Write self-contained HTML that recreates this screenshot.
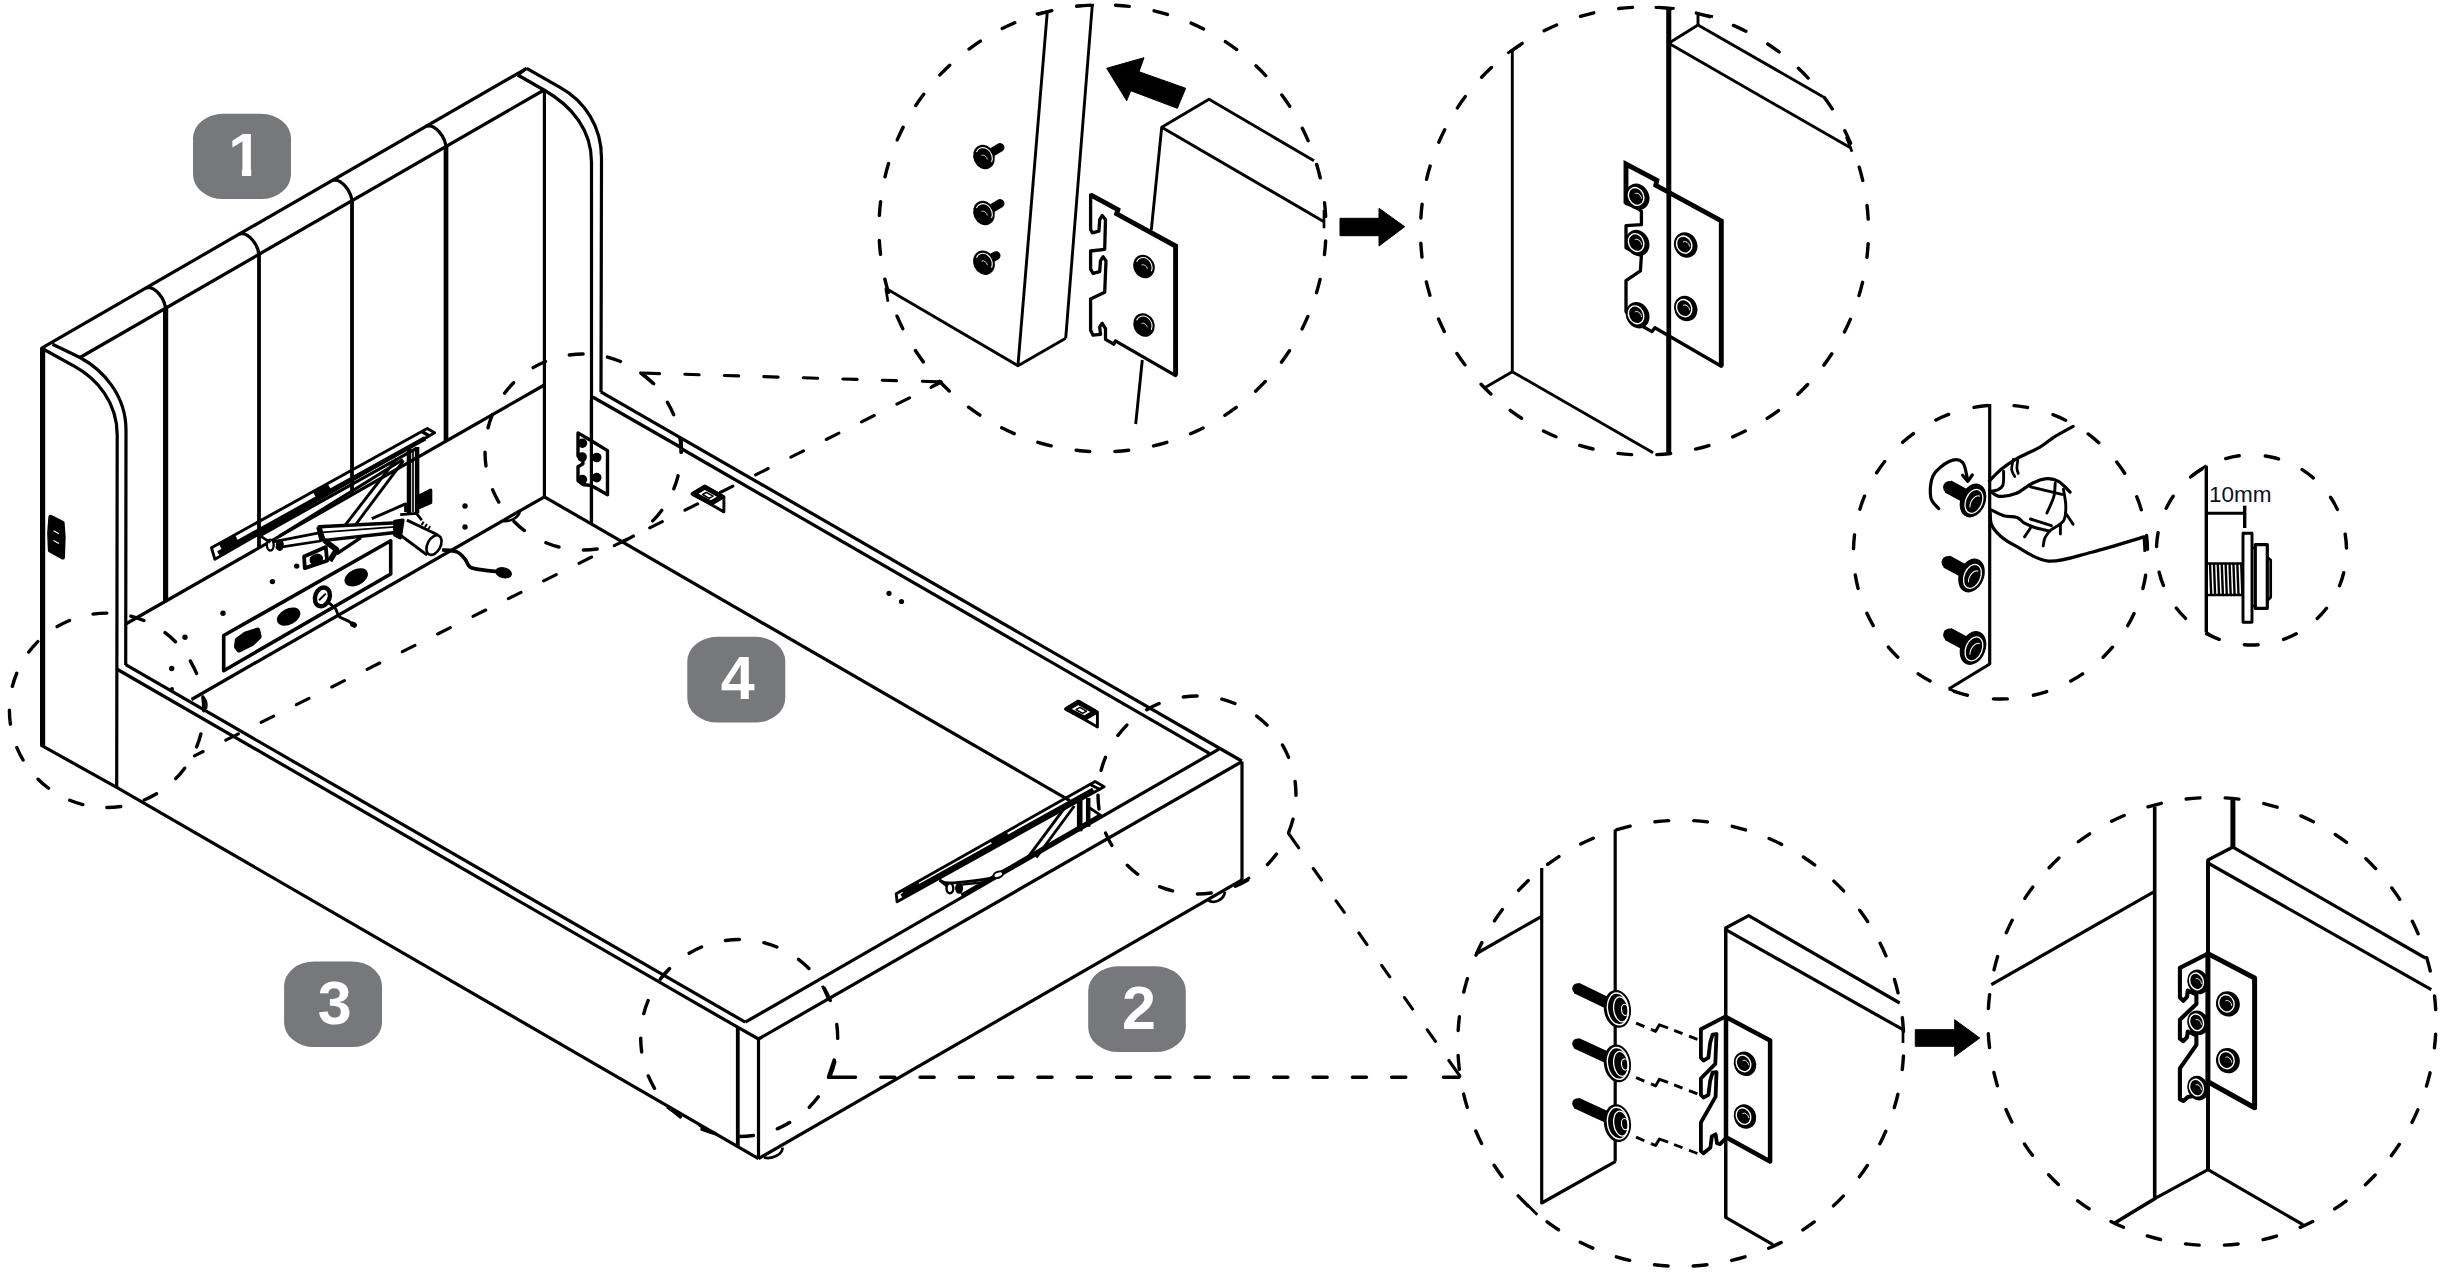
<!DOCTYPE html>
<html><head><meta charset="utf-8"><title>Bed assembly</title>
<style>html,body{margin:0;padding:0;background:#fff}body{width:2443px;height:1272px;overflow:hidden}svg{display:block}text{font-family:"Liberation Sans",sans-serif}</style>
</head><body>
<svg width="2443" height="1272" viewBox="0 0 2443 1272" stroke-linecap="butt" stroke-linejoin="round">
<rect width="2443" height="1272" fill="#fff"/>
<path d="M41.3,348.3 L526.7,68.3" fill="none" stroke="#000" stroke-width="3.2" />
<path d="M80,357.5 L544,90" fill="none" stroke="#000" stroke-width="3.2" />
<path d="M42.6,347.5 L42.6,746" fill="none" stroke="#000" stroke-width="5.2" />
<path d="M52.5,344.2 L80,357.5 C103,370 126,395 126,430 L125.7,665" fill="none" stroke="#000" stroke-width="3.2" />
<path d="M44,349.5 L75,366.7 C97,379 117.2,402 117.2,435 L116.7,787.3" fill="none" stroke="#000" stroke-width="3.2" />
<path d="M526.7,68.3 L560,87.3 C585,101 601.5,127 601.5,158 L601,392" fill="none" stroke="#000" stroke-width="3.2" />
<path d="M517.7,75 L544,90 C572,106 591.5,130 591.5,162 L591.5,523.5" fill="none" stroke="#000" stroke-width="3.2" />
<path d="M526.7,68.3 L517.7,75" fill="none" stroke="#000" stroke-width="3.2" />
<path d="M145.8,288 C154.8,285 165.6,299.2 165.6,310.2" fill="none" stroke="#000" stroke-width="3.2" />
<path d="M165.6,308.2 L165.6,601.2" fill="none" stroke="#000" stroke-width="5.2" />
<path d="M239.2,234.1 C248.2,231.1 259,245.3 259,256.3" fill="none" stroke="#000" stroke-width="3.2" />
<path d="M259,254.3 L259,547.9" fill="none" stroke="#000" stroke-width="3.8" />
<path d="M332.2,180.5 C341.2,177.5 352,191.7 352,202.7" fill="none" stroke="#000" stroke-width="3.2" />
<path d="M352,200.7 L352,494.8" fill="none" stroke="#000" stroke-width="3.8" />
<path d="M426.2,126.3 C435.2,123.3 446,137.5 446,148.5" fill="none" stroke="#000" stroke-width="3.2" />
<path d="M446,146.5 L446,441.1" fill="none" stroke="#000" stroke-width="4.7" />
<path d="M544.4,90 L544.4,496.8" fill="none" stroke="#000" stroke-width="3.2" />
<path d="M125.7,624 L544.3,385" fill="none" stroke="#000" stroke-width="3.2" />
<path d="M191.5,699.5 L544.4,496.8" fill="none" stroke="#000" stroke-width="3.2" />
<path d="M41,745.2 L116.7,787.3 L758.5,1158.6" fill="none" stroke="#000" stroke-width="3.2" />
<path d="M116.7,669 L737.6,1027.2" fill="none" stroke="#000" stroke-width="3.2" />
<path d="M125.7,664.7 L745.3,1022.2" fill="none" stroke="#000" stroke-width="3.2" />
<path d="M737.6,1027.2 L758.5,1039" fill="none" stroke="#000" stroke-width="3.2" />
<path d="M737.8,1027.2 L737.8,1145.8" fill="none" stroke="#000" stroke-width="3.8" />
<path d="M758.5,1039 L758.5,1158.6" fill="none" stroke="#000" stroke-width="3.2" />
<path d="M659.4,980.3 L670.4,968.2" fill="none" stroke="#000" stroke-width="2.7" />
<path d="M745.3,1022.2 L1218.9,749.2" fill="none" stroke="#000" stroke-width="3.2" />
<path d="M758.5,1039 L1242,761.5" fill="none" stroke="#000" stroke-width="3.2" />
<path d="M758.5,1158.6 L1242,879.8" fill="none" stroke="#000" stroke-width="3.2" />
<path d="M1242,761.5 L1242,880" fill="none" stroke="#000" stroke-width="3.2" />
<path d="M822.3,985.8 L828.9,1000.2" fill="none" stroke="#000" stroke-width="2.7" />
<path d="M1235,886 L1250,877.5" fill="none" stroke="#000" stroke-width="2.7" />
<path d="M600.8,391.8 L1241.7,761" fill="none" stroke="#000" stroke-width="3.2" />
<path d="M592.7,397 L681,447.5" fill="none" stroke="#000" stroke-width="3.2" />
<path d="M681.6,437.5 L681.6,453.5" fill="none" stroke="#000" stroke-width="2.9" />
<path d="M682,449 L1209.4,753.4" fill="none" stroke="#000" stroke-width="3.2" />
<path d="M544.4,496.8 L1069.8,800.6" fill="none" stroke="#000" stroke-width="3.2" />
<path d="M764,1157.5 C772,1159.5 782,1155 782.7,1147.6" fill="none" stroke="#000" stroke-width="2.7" />
<path d="M1208,900 C1214,904.5 1224,900 1225,891.5" fill="none" stroke="#000" stroke-width="2.7" />
<path d="M698,1124 C703,1130 712,1131 716,1134" fill="none" stroke="#000" stroke-width="2.5" />
<path d="M667,1107 C672,1112 678,1113 682,1116" fill="none" stroke="#000" stroke-width="2.5" />
<path d="M502,521 C512,522 518,517 520,512" fill="none" stroke="#000" stroke-width="2.5" />
<path d="M203,697 C206,700 207,705 206,709" fill="none" stroke="#000" stroke-width="2.5" />
<rect x="193" y="113.8" width="98" height="85.2" rx="30" ry="24.5" fill="#77787b"/>
<text x="245.3" y="176.2" font-size="61" font-weight="700" fill="#fff" text-anchor="middle">1</text>
<rect x="228" y="168.6" width="13.9" height="9" fill="#77787b"/><rect x="251.2" y="168.6" width="11" height="9" fill="#77787b"/>
<rect x="1088.2" y="966.3" width="97.59999999999991" height="85.70000000000005" rx="30" ry="24.5" fill="#77787b"/>
<text x="1139" y="1029" font-size="61" font-weight="700" fill="#fff" text-anchor="middle">2</text>
<rect x="284.1" y="961.5" width="97.89999999999998" height="85.5" rx="30" ry="24.5" fill="#77787b"/>
<text x="334.7" y="1024" font-size="61" font-weight="700" fill="#fff" text-anchor="middle">3</text>
<rect x="687.3" y="636.8" width="98.0" height="85.70000000000005" rx="30" ry="24.5" fill="#77787b"/>
<text x="737.6" y="699.4" font-size="61" font-weight="700" fill="#fff" text-anchor="middle">4</text>
<path d="M211.5,547.8 L427.2,428.4 L434.6,432.8 L214.9,559.3 Z" fill="none" stroke="#000" stroke-width="2.9" />
<path d="M218.3,553.2 L425.2,438.3" fill="none" stroke="#000" stroke-width="4.7" />
<path d="M315,495.7 L329.8,487.4" fill="none" stroke="#000" stroke-width="10.2" />
<path d="M220.3,546.5 L236.5,537.7" fill="none" stroke="#000" stroke-width="7.9" />
<path d="M421.8,431.5 L429.9,436.2" fill="none" stroke="#000" stroke-width="3.4" />
<path d="M260.9,535 L416.4,448.4" fill="none" stroke="#000" stroke-width="3.2" />
<path d="M279.1,536.3 L402.9,459.5" fill="none" stroke="#000" stroke-width="3.2" />
<path d="M345.4,524.8 L396.8,458.5" fill="none" stroke="#000" stroke-width="2.9" />
<path d="M355.5,524.8 L403.5,460.6" fill="none" stroke="#000" stroke-width="2.9" />
<path d="M409,448.4 L409,513.3" fill="none" stroke="#000" stroke-width="4.5" />
<path d="M417.1,447 L417.1,513.3" fill="none" stroke="#000" stroke-width="4.5" />
<path d="M413,451.1 L413,512" fill="none" stroke="#000" stroke-width="1.7" />
<path d="M419.8,495.7 L430.6,490.3 L430.6,502.5 L419.8,507.2 Z" fill="#000" stroke="#000" stroke-width="3.4" />
<path d="M371.8,518.7 L405.6,503.9 L405.6,512" fill="none" stroke="#000" stroke-width="2.9" />
<path d="M270.3,542.4 L319,532.9" fill="none" stroke="#000" stroke-width="2.7" />
<path d="M275.7,547.8 L320.4,541" fill="none" stroke="#000" stroke-width="2.7" />
<path d="M319,526.8 L397.5,522.8 L397.5,532.3 L324.4,540.4 Z" fill="#fff" stroke="#000" stroke-width="3.4" />
<path d="M321.7,532.3 L394.8,526.8" fill="none" stroke="#000" stroke-width="1.8" />
<path d="M319,526.8 L322.4,541.7" fill="none" stroke="#000" stroke-width="5.6" />
<ellipse cx="270.3" cy="545.1" rx="3.4" ry="5.5" transform="rotate(0 270.3 545.1)" fill="#fff" stroke="#000" stroke-width="2.4"/>
<ellipse cx="279.8" cy="545.1" rx="4" ry="6" transform="rotate(0 279.8 545.1)" fill="#000" stroke="none" stroke-width="0"/>
<path d="M260.9,536.3 L270.3,542.4" fill="none" stroke="#000" stroke-width="2.7" />
<path d="M324.4,540.4 L336.6,549.8 L329.8,560.7" fill="none" stroke="#000" stroke-width="5.6" />
<path d="M360.9,537.7 L336.6,553.9" fill="none" stroke="#000" stroke-width="3.4" />
<path d="M304.1,556.6 L325.8,547.1 L327.1,560.7 L304.8,568.1 Z" fill="#fff" stroke="#000" stroke-width="3.8" />
<ellipse cx="316.3" cy="559.3" rx="7" ry="5.5" transform="rotate(-20 316.3 559.3)" fill="#000" stroke="none" stroke-width="0"/>
<path d="M394.8,521.4 L394.8,535 L400.2,537.7 L402.9,520.1 Z" fill="#000" stroke="#000" stroke-width="3.4" />
<path d="M400.2,535 L427.2,555.2" fill="none" stroke="#000" stroke-width="2.9" />
<path d="M406.9,520.1 L438,535" fill="none" stroke="#000" stroke-width="2.9" />
<ellipse cx="434" cy="545.1" rx="6.5" ry="10.5" transform="rotate(28 434 545.1)" fill="#fff" stroke="#000" stroke-width="2.6"/>
<path d="M400.2,514.7 L416.4,513.3 L421.8,520.1" fill="none" stroke="#000" stroke-width="2.7" />
<path d="M421.8,522.8 L429.9,528.2" fill="none" stroke="#000" stroke-width="3.8" stroke-dasharray="2 2"/>
<path d="M442.1,549.8 C444.6,550.2 453.1,550.3 457,551.9 C460.8,553.4 462.8,556.7 465.1,559.3 C467.3,561.9 467.3,565.6 470.5,567.4 C473.6,569.2 479.7,569.4 484,570.1 C488.3,570.8 494.2,571.2 496.2,571.5" fill="none" stroke="#000" stroke-width="3.6" />
<ellipse cx="503.6" cy="572.8" rx="8.5" ry="5.5" transform="rotate(15 503.6 572.8)" fill="#000" stroke="none" stroke-width="0"/>
<circle cx="296.7" cy="566.1" r="2.7" fill="#000"/>
<circle cx="272.4" cy="581.6" r="2.7" fill="#000"/>
<circle cx="465" cy="506" r="2.7" fill="#000"/>
<circle cx="465" cy="527" r="2.7" fill="#000"/>
<circle cx="223" cy="613.2" r="2.7" fill="#000"/>
<circle cx="185" cy="637.3" r="2.7" fill="#000"/>
<circle cx="171.7" cy="668.5" r="2.7" fill="#000"/>
<circle cx="172" cy="689" r="2.0" fill="#000"/>
<circle cx="889" cy="593.3" r="2.6" fill="#000"/>
<circle cx="901.5" cy="601.5" r="2.6" fill="#000"/>
<path d="M223.7,635.5 L390.7,540.8 L390.7,574 L223.7,670.7 Z" fill="none" stroke="#000" stroke-width="3.6" />
<path d="M237.6,640.2 L245.3,634.4 L257.5,630.4 L258.8,636.8 L251.4,643.6 L239,649.7 L236.8,646.6 Z" fill="#000" stroke="#000" stroke-width="5.6" />
<ellipse cx="288.6" cy="616.6" rx="12.5" ry="8" transform="rotate(-27 288.6 616.6)" fill="#000" stroke="none" stroke-width="0"/>
<ellipse cx="356.2" cy="577.3" rx="12.5" ry="8" transform="rotate(-27 356.2 577.3)" fill="#000" stroke="none" stroke-width="0"/>
<ellipse cx="322.4" cy="596.9" rx="7.2" ry="9.6" transform="rotate(20 322.4 596.9)" fill="none" stroke="#000" stroke-width="4.4"/>
<path d="M319,600.3 L325.8,593.6" fill="none" stroke="#000" stroke-width="2" />
<path d="M327.1,601.7 C328.5,602.8 333.2,606 335.2,608.4 C337.3,610.9 337,614.4 339.3,616.6 C341.6,618.7 346.5,619.9 348.8,621.3 C351,622.6 352.2,624.1 352.8,624.7" fill="none" stroke="#000" stroke-width="2.9" />
<ellipse cx="353.5" cy="624.7" rx="3.6" ry="2.8" transform="rotate(30 353.5 624.7)" fill="#000" stroke="none" stroke-width="0"/>
<path d="M50.6,517 L62.4,522.9 L63.4,537.2 L62.7,557.3 L50.1,550.4 L49.4,533.2 Z" fill="#000" stroke="#000" stroke-width="4.5" />
<path d="M53.6,530.8 L59,533.7" fill="none" stroke="#fff" stroke-width="1.2" />
<path d="M53.6,540.6 L59,543.6" fill="none" stroke="#fff" stroke-width="1.2" />
<path d="M578,432.9 L591.3,440.8 L607.5,450.6 L607.5,494.8 L591.3,485.5 L582.9,484.5 L578,480.6 L578,466.8 L582.9,463.9 L582.9,459 L578,456 L578,432.9 Z" fill="#fff" stroke="#000" stroke-width="3.4" />
<path d="M591.4,400 L591.4,523.5" fill="none" stroke="#000" stroke-width="3.2" />
<circle cx="582.4" cy="443.2" r="4.8" fill="#000"/>
<circle cx="582.1" cy="457" r="4.8" fill="#000"/>
<circle cx="582.4" cy="479.6" r="4.8" fill="#000"/>
<circle cx="596.7" cy="457.5" r="4.8" fill="#000"/>
<circle cx="596.7" cy="477.6" r="4.8" fill="#000"/>
<path d="M692,493.9 L704.8,486 L723.9,496.8 L723.9,511.9 L711,504.4 Z" fill="#fff" stroke="#000" stroke-width="2.9" />
<path d="M693.5,493.9 L704.8,487.3 L721.5,496.8 L711,502.9 Z" fill="#fff" stroke="#000" stroke-width="4.7" />
<path d="M711,504.4 L723.9,496.8" fill="none" stroke="#000" stroke-width="2.9" />
<path d="M702.5,494.5 L706.3,492.3 L713,496.1 L709.2,498.3 Z" fill="#fff" stroke="#000" stroke-width="1.5" />
<path d="M1065.5,709 L1078.3,701.1 L1097.4,711.9 L1097.4,727 L1084.5,719.5 Z" fill="#fff" stroke="#000" stroke-width="2.9" />
<path d="M1067,709 L1078.3,702.4 L1095,711.9 L1084.5,718 Z" fill="#fff" stroke="#000" stroke-width="4.7" />
<path d="M1084.5,719.5 L1097.4,711.9" fill="none" stroke="#000" stroke-width="2.9" />
<path d="M1076,709.6 L1079.8,707.4 L1086.5,711.2 L1082.7,713.4 Z" fill="#fff" stroke="#000" stroke-width="1.5" />
<path d="M896.2,893.7 L1095.1,781.6 L1104.1,786.7 L897.1,901.8 Z" fill="none" stroke="#000" stroke-width="2.9" />
<path d="M901.6,896.4 L1093.3,789.7" fill="none" stroke="#000" stroke-width="4.7" />
<path d="M992,844 L1008.3,834.9" fill="none" stroke="#000" stroke-width="9" />
<path d="M903.4,893.7 L919.7,884.7" fill="none" stroke="#000" stroke-width="6.8" />
<path d="M1089.7,784.3 L1100.5,789.7" fill="none" stroke="#000" stroke-width="2.9" />
<path d="M1100.5,815 L961.3,895.2" fill="none" stroke="#000" stroke-width="3.2" />
<path d="M1026.4,859.3 L1068,803.3" fill="none" stroke="#000" stroke-width="2.9" />
<path d="M1036.3,857.5 L1074.3,806" fill="none" stroke="#000" stroke-width="2.9" />
<path d="M1079.7,799.7 L1079.7,831.3" fill="none" stroke="#000" stroke-width="5.6" />
<path d="M1088.2,797.9 L1088.2,826.8" fill="none" stroke="#000" stroke-width="4.5" />
<path d="M1088.2,806.9 L1101.4,815.9" fill="none" stroke="#000" stroke-width="2.9" />
<path d="M939.6,880.1 C941.4,880.6 942,883.2 950.4,882.9 C958.9,882.6 982.4,879.8 990.2,878.3 C998,876.8 992,876.7 997.4,873.8 C1002.9,871 1017.6,863.9 1022.7,861.2 C1027.9,858.4 1027.3,858.1 1028.2,857.5" fill="none" stroke="#000" stroke-width="2.7" />
<path d="M939.6,880.1 L948.6,887.4" fill="none" stroke="#000" stroke-width="2.7" />
<path d="M961.3,884.7 L986.6,882" fill="none" stroke="#000" stroke-width="2.3" />
<ellipse cx="949.9" cy="888.3" rx="3.4" ry="5" transform="rotate(0 949.9 888.3)" fill="#fff" stroke="#000" stroke-width="2.4"/>
<ellipse cx="959.1" cy="888.3" rx="4" ry="5.5" transform="rotate(0 959.1 888.3)" fill="#000" stroke="none" stroke-width="0"/>
<ellipse cx="998.3" cy="874.7" rx="5" ry="3" transform="rotate(-20 998.3 874.7)" fill="#fff" stroke="#000" stroke-width="2"/>
<circle cx="583" cy="452" r="98" fill="none" stroke="#000" stroke-width="3.4" stroke-dasharray="13.80 24.68" stroke-linecap="round" transform="rotate(14.07 583 452)"/>
<circle cx="106.6" cy="710.3" r="97.2" fill="none" stroke="#000" stroke-width="3.4" stroke-dasharray="13.80 24.37" stroke-linecap="round" transform="rotate(14.03 106.6 710.3)"/>
<circle cx="739.2" cy="1038" r="98.5" fill="none" stroke="#000" stroke-width="3.4" stroke-dasharray="13.80 24.88" stroke-linecap="round" transform="rotate(14.09 739.2 1038)"/>
<circle cx="1197" cy="795" r="99" fill="none" stroke="#000" stroke-width="3.4" stroke-dasharray="13.80 25.08" stroke-linecap="round" transform="rotate(14.11 1197 795)"/>
<circle cx="1102.5" cy="228.3" r="223.5" fill="none" stroke="#000" stroke-width="3.4" stroke-dasharray="13.80 25.21" stroke-linecap="round" transform="rotate(3.23 1102.5 228.3)"/>
<circle cx="1644.5" cy="231" r="224" fill="none" stroke="#000" stroke-width="3.4" stroke-dasharray="13.80 25.30" stroke-linecap="round" transform="rotate(3.24 1644.5 231)"/>
<circle cx="2000.5" cy="552" r="147" fill="none" stroke="#000" stroke-width="3.4" stroke-dasharray="13.80 26.36" stroke-linecap="round" transform="rotate(9.05 2000.5 552)"/>
<circle cx="2251.5" cy="550" r="95" fill="none" stroke="#000" stroke-width="3.4" stroke-dasharray="13.80 25.99" stroke-linecap="round" transform="rotate(13.84 2251.5 550)"/>
<circle cx="1680.8" cy="1043.3" r="223" fill="none" stroke="#000" stroke-width="3.4" stroke-dasharray="13.80 25.12" stroke-linecap="round" transform="rotate(3.23 1680.8 1043.3)"/>
<circle cx="2212" cy="1021.5" r="224" fill="none" stroke="#000" stroke-width="3.4" stroke-dasharray="13.80 25.30" stroke-linecap="round" transform="rotate(3.24 2212 1021.5)"/>
<path d="M642.1,373 L659.6,373.6 M684.8,374.3 L699.1,374.7 M724.3,375.5 L738.6,375.9 M763.8,376.6 L778.1,377.1 M803.3,377.8 L817.6,378.2 M842.8,379 L857.1,379.4 M882.2,380.2 L896.5,380.6 M922.3,381.3 L939.8,381.9 " fill="none" stroke="#000" stroke-width="3.1" stroke-linecap="round"/>
<path d="M640.6,373 L653.9,383.8" fill="none" stroke="#000" stroke-width="3.1" stroke-linecap="round"/>
<path d="M941.3,381.9 L931,387.5" fill="none" stroke="#000" stroke-width="3.1" stroke-linecap="round"/>
<path d="M939.9,382.6 L932.2,386.4 M909.5,397.8 L896.9,404.1 M874.2,415.5 L861.6,421.8 M838.9,433.2 L826.3,439.5 M803.5,450.9 L790.9,457.2 M768.2,468.5 L755.6,474.9 M732.9,486.2 L720.3,492.5 M697.6,503.9 L685,510.2 M662.3,521.6 L649.7,527.9 M626.9,539.3 L614.3,545.6 M591.6,557 L579,563.3 M556.3,574.6 L543.7,580.9 M521,592.3 L508.4,598.6 M485.7,610 L473,616.3 M450.3,627.7 L437.7,634 M415,645.4 L402.4,651.7 M379.7,663 L367.1,669.4 M344.4,680.7 L331.8,687 M309,698.4 L296.4,704.7 M273.7,716.1 L261.1,722.4 M238.4,733.8 L225.8,740.1 M203.1,751.5 L194.4,755.8 " fill="none" stroke="#000" stroke-width="3.1" stroke-linecap="round"/>
<path d="M834.3,1060.2 L828.6,1077.2" fill="none" stroke="#000" stroke-width="3.7" stroke-linecap="round"/>
<path d="M828.8,1077.2 L855.5,1077.2 M880.8,1077.2 L894.8,1077.2 M920.1,1077.2 L934.1,1077.2 M959.4,1077.2 L973.4,1077.2 M998.7,1077.2 L1012.7,1077.2 M1038,1077.2 L1052,1077.2 M1077.3,1077.2 L1091.3,1077.2 M1116.6,1077.2 L1130.6,1077.2 M1155.9,1077.2 L1169.9,1077.2 M1195.2,1077.2 L1209.2,1077.2 M1234.5,1077.2 L1248.5,1077.2 M1273.8,1077.2 L1287.8,1077.2 M1313.1,1077.2 L1327.1,1077.2 M1352.4,1077.2 L1366.4,1077.2 M1391.7,1077.2 L1405.7,1077.2 M1443.5,1077.2 L1458.9,1077.2 " fill="none" stroke="#000" stroke-width="3.6" stroke-linecap="round"/>
<path d="M1288.6,833.5 L1298.7,847.8 M1313.3,868.5 L1321.5,880 M1336.1,900.8 L1344.3,912.3 M1358.9,933 L1367,944.6 M1381.7,965.3 L1389.8,976.8 M1404.5,997.6 L1412.6,1009.1 M1427.3,1029.8 L1435.4,1041.4 M1448.9,1060.5 L1459.8,1075.9 " fill="none" stroke="#000" stroke-width="3.1" stroke-linecap="round"/>
<path d="M1047.3,11.7 L1018,365" fill="none" stroke="#000" stroke-width="2.9" />
<path d="M1035.7,14 L1051.3,10.7" fill="none" stroke="#000" stroke-width="2.7" />
<path d="M1092.3,5 L1065.7,338.3" fill="none" stroke="#000" stroke-width="2.9" />
<path d="M1075.7,6 L1094,5" fill="none" stroke="#000" stroke-width="2.7" />
<path d="M885.7,288.3 L1018,365.7 L1065.7,338.3" fill="none" stroke="#000" stroke-width="2.9" />
<path d="M885.7,288.3 L888,301.7" fill="none" stroke="#000" stroke-width="2.7" />
<line x1="984" y1="157" x2="1000" y2="147.5" stroke="#000" stroke-width="9" stroke-linecap="round"/>
<ellipse cx="984" cy="157" rx="10.5" ry="12.5" transform="rotate(-25 984 157)" fill="#000" stroke="none" stroke-width="0"/>
<g transform="rotate(-25 984 157)"><path d="M979.3,149.2 A7.6,9.2 0 0 1 988.7,164.8" fill="none" stroke="#fff" stroke-width="1.1"/><path d="M982.4,154.5 A3.7,5 0 0 1 986.1,160.8" fill="none" stroke="#fff" stroke-width="0.7"/></g>
<line x1="984" y1="213" x2="1000" y2="203.5" stroke="#000" stroke-width="9" stroke-linecap="round"/>
<ellipse cx="984" cy="213" rx="10.5" ry="12.5" transform="rotate(-25 984 213)" fill="#000" stroke="none" stroke-width="0"/>
<g transform="rotate(-25 984 213)"><path d="M979.3,205.2 A7.6,9.2 0 0 1 988.7,220.8" fill="none" stroke="#fff" stroke-width="1.1"/><path d="M982.4,210.5 A3.7,5 0 0 1 986.1,216.8" fill="none" stroke="#fff" stroke-width="0.7"/></g>
<line x1="984" y1="262.7" x2="996" y2="255.7" stroke="#000" stroke-width="9" stroke-linecap="round"/>
<ellipse cx="984" cy="262.7" rx="10.5" ry="12.5" transform="rotate(-25 984 262.7)" fill="#000" stroke="none" stroke-width="0"/>
<g transform="rotate(-25 984 262.7)"><path d="M979.3,254.9 A7.6,9.2 0 0 1 988.7,270.4" fill="none" stroke="#fff" stroke-width="1.1"/><path d="M982.4,260.2 A3.7,5 0 0 1 986.1,266.4" fill="none" stroke="#fff" stroke-width="0.7"/></g>
<path d="M1106.7,68.3 L1144,57.7 L1139,71.7 L1185.7,88.3 L1177.3,108.3 L1130.7,90.7 L1126.7,100.7 Z" fill="#000" stroke="#000" stroke-width="1" />
<path d="M1151.3,230 L1161.7,127.3 L1209,99.3 L1314,160.7" fill="none" stroke="#000" stroke-width="2.9" />
<path d="M1161.7,127.3 L1324,221.7" fill="none" stroke="#000" stroke-width="2.9" />
<path d="M1324,210 L1324,228.3" fill="none" stroke="#000" stroke-width="2.7" />
<path d="M1142.3,360 L1135.7,424" fill="none" stroke="#000" stroke-width="2.9" />
<path d="M1090.6,194.9 L1117.9,209.7 L1116.7,213.8 L1175.6,246 L1175.6,375.6 L1115.4,340.9 L1113.7,344.2 L1105.5,339.3 L1105.5,328.6 L1102.2,323.3 L1099.7,326.9 L1100.5,334.3 L1093.1,335.2 L1090.6,330.2 L1090.6,298.9 L1104.7,292.2 L1106,260.9 L1103,256.8 L1100.5,260.9 L1099.7,271.6 L1093.1,273.3 L1090.6,269.1 L1090.6,251 L1104.7,249.3 L1105.5,219.6 L1102.2,215.5 L1099.7,219.6 L1098.9,231.2 L1092.3,232.8 L1090.6,229.5 Z" fill="#fff" stroke="#000" stroke-width="3.3" />
<path d="M1090.6,194.9 L1117.9,209.7 L1116.7,213.8 L1175.6,246 L1175.6,375.6" fill="none" stroke="#000" stroke-width="4.9" stroke-linejoin="miter"/>
<ellipse cx="1144" cy="266.5" rx="10.5" ry="12" transform="rotate(-25 1144 266.5)" fill="#000" stroke="none" stroke-width="0"/>
<g transform="rotate(-25 1144 266.5)"><path d="M1139.3,259.1 A7.6,8.9 0 0 1 1148.7,273.9" fill="none" stroke="#fff" stroke-width="1.1"/><path d="M1142.4,264.1 A3.7,4.8 0 0 1 1146.1,270.1" fill="none" stroke="#fff" stroke-width="0.7"/></g>
<ellipse cx="1144" cy="325" rx="10.5" ry="12" transform="rotate(-25 1144 325)" fill="#000" stroke="none" stroke-width="0"/>
<g transform="rotate(-25 1144 325)"><path d="M1139.3,317.6 A7.6,8.9 0 0 1 1148.7,332.4" fill="none" stroke="#fff" stroke-width="1.1"/><path d="M1142.4,322.6 A3.7,4.8 0 0 1 1146.1,328.6" fill="none" stroke="#fff" stroke-width="0.7"/></g>
<path d="M1340,218.3 L1379,218.3 L1379,208.3 L1404.7,226.7 L1379,246 L1379,235.7 L1340,235.7 Z" fill="#000" stroke="#000" stroke-width="1" />
<path d="M1512.3,50 L1512.3,371.7 L1484.7,387.7" fill="none" stroke="#000" stroke-width="2.9" />
<path d="M1507.3,53.3 L1520.7,45" fill="none" stroke="#000" stroke-width="2.7" />
<path d="M1512.3,371.7 L1653.1,452.7" fill="none" stroke="#000" stroke-width="2.9" />
<path d="M1668.8,7 L1668.8,452.5" fill="none" stroke="#000" stroke-width="4.7" />
<path d="M1654.7,7.3 L1674.7,8.3" fill="none" stroke="#000" stroke-width="2.7" />
<path d="M1668.7,43.3 L1698,25 L1823,96.7" fill="none" stroke="#000" stroke-width="2.9" />
<path d="M1698,13.3 L1698,25" fill="none" stroke="#000" stroke-width="2.9" />
<path d="M1698,14 L1713,16.7" fill="none" stroke="#000" stroke-width="2.7" />
<path d="M1668.7,43.3 L1851.3,148.3" fill="none" stroke="#000" stroke-width="2.9" />
<path d="M1846.3,136.7 L1852,151.7" fill="none" stroke="#000" stroke-width="2.7" />
<path d="M1626,164.1 L1656.8,180.4 L1655.8,185.3 L1721.3,220.9 L1721.3,366.3 L1654.9,327.8 L1652,331.6 L1641.4,325.8 L1636.6,324.9 L1626,311.4 L1626,280.6 L1640.4,270.9 L1641.4,255.5 L1636.6,253.6 L1626,247.8 L1626,225.7 L1641.4,224.7 L1641.4,211.2 L1636.6,207.4 L1626,203.5 Z" fill="#fff" stroke="#000" stroke-width="3.3" />
<path d="M1626,203.5 L1626,164.1 L1656.8,180.4 L1655.8,185.3 L1721.3,220.9 L1721.3,366.3" fill="none" stroke="#000" stroke-width="4.9" stroke-linejoin="miter"/>
<path d="M1668.8,7 L1668.8,452.5" fill="none" stroke="#000" stroke-width="4.7" />
<ellipse cx="1637.6" cy="196.8" rx="11.5" ry="13.5" transform="rotate(-25 1637.6 196.8)" fill="#000" stroke="none" stroke-width="0"/>
<g transform="rotate(-25 1637.6 196.8)"><ellipse cx="1636.4" cy="195.8" rx="7.4" ry="9.2" fill="none" stroke="#fff" stroke-width="1.4"/><path d="M1636.4,192.8 A4,5.4 0 0 1 1640.5,200.2" fill="none" stroke="#fff" stroke-width="0.8"/></g>
<ellipse cx="1637.6" cy="243" rx="11.5" ry="13.5" transform="rotate(-25 1637.6 243)" fill="#000" stroke="none" stroke-width="0"/>
<g transform="rotate(-25 1637.6 243)"><ellipse cx="1636.4" cy="242" rx="7.4" ry="9.2" fill="none" stroke="#fff" stroke-width="1.4"/><path d="M1636.4,238.9 A4,5.4 0 0 1 1640.5,246.4" fill="none" stroke="#fff" stroke-width="0.8"/></g>
<ellipse cx="1637.6" cy="315.2" rx="11.5" ry="13.5" transform="rotate(-25 1637.6 315.2)" fill="#000" stroke="none" stroke-width="0"/>
<g transform="rotate(-25 1637.6 315.2)"><ellipse cx="1636.4" cy="314.2" rx="7.4" ry="9.2" fill="none" stroke="#fff" stroke-width="1.4"/><path d="M1636.4,311.1 A4,5.4 0 0 1 1640.5,318.6" fill="none" stroke="#fff" stroke-width="0.8"/></g>
<ellipse cx="1685.7" cy="245" rx="11.5" ry="13" transform="rotate(-25 1685.7 245)" fill="#000" stroke="none" stroke-width="0"/>
<g transform="rotate(-25 1685.7 245)"><ellipse cx="1684.5" cy="244" rx="7.4" ry="8.8" fill="none" stroke="#fff" stroke-width="1.4"/><path d="M1684.5,241.1 A4,5.2 0 0 1 1688.6,248.2" fill="none" stroke="#fff" stroke-width="0.8"/></g>
<ellipse cx="1685.7" cy="308.5" rx="11.5" ry="13" transform="rotate(-25 1685.7 308.5)" fill="#000" stroke="none" stroke-width="0"/>
<g transform="rotate(-25 1685.7 308.5)"><ellipse cx="1684.5" cy="307.5" rx="7.4" ry="8.8" fill="none" stroke="#fff" stroke-width="1.4"/><path d="M1684.5,304.6 A4,5.2 0 0 1 1688.6,311.8" fill="none" stroke="#fff" stroke-width="0.8"/></g>
<path d="M1541.7,868 L1541.7,1203 L1615.7,1161.3" fill="none" stroke="#000" stroke-width="3.2" />
<path d="M1541.7,916.3 L1475.7,954" fill="none" stroke="#000" stroke-width="3.2" />
<path d="M1527.3,1204.7 L1537.3,1214.7" fill="none" stroke="#000" stroke-width="2.7" />
<path d="M1615.2,829.5 L1615.2,1161.3" fill="none" stroke="#000" stroke-width="3.2" />
<path d="M1725.7,1014.7 L1725.7,928 L1748.7,915.7 L1899.7,1003" fill="none" stroke="#000" stroke-width="3.2" />
<path d="M1725.7,929.7 L1903,1029.7" fill="none" stroke="#000" stroke-width="3.2" />
<path d="M1903,1028 L1903,1043" fill="none" stroke="#000" stroke-width="2.7" />
<path d="M1725.7,1141.3 L1725.7,1217.3 L1773,1244.7" fill="none" stroke="#000" stroke-width="3.2" />
<line x1="1576.4" y1="988" x2="1617.1" y2="1007.6" stroke="#000" stroke-width="11.5" stroke-linecap="butt"/>
<circle cx="1577.4" cy="988.5" r="5.2" fill="#000"/>
<ellipse cx="1617.4" cy="1008.9" rx="13.5" ry="19" transform="rotate(-8 1617.4 1008.9)" fill="#000" stroke="none" stroke-width="0"/>
<ellipse cx="1617.9" cy="1008.9" rx="10.4" ry="16" transform="rotate(-8 1617.9 1008.9)" fill="none" stroke="#fff" stroke-width="1.4"/>
<ellipse cx="1620.9" cy="1009.4" rx="7.2" ry="12.6" transform="rotate(-8 1620.9 1009.4)" fill="none" stroke="#fff" stroke-width="1.3"/>
<ellipse cx="1624.9" cy="1009.9" rx="3.4" ry="5.6" transform="rotate(-8 1624.9 1009.9)" fill="none" stroke="#fff" stroke-width="1.1"/>
<path d="M1636.1,1023.1 L1651.6,1029.7" fill="none" stroke="#000" stroke-width="2.9" stroke-dasharray="9 7"/>
<path d="M1651.6,1029.7 L1655.6,1031.4 L1659.4,1024.8 L1668.1,1028" fill="none" stroke="#000" stroke-width="2.9" />
<path d="M1674.1,1030.4 L1699.2,1040.1" fill="none" stroke="#000" stroke-width="2.9" stroke-dasharray="9 7"/>
<line x1="1576.4" y1="1043.3" x2="1617.1" y2="1062" stroke="#000" stroke-width="11.5" stroke-linecap="butt"/>
<circle cx="1577.4" cy="1043.8" r="5.2" fill="#000"/>
<ellipse cx="1617.4" cy="1063.4" rx="13.5" ry="19" transform="rotate(-8 1617.4 1063.4)" fill="#000" stroke="none" stroke-width="0"/>
<ellipse cx="1617.9" cy="1063.4" rx="10.4" ry="16" transform="rotate(-8 1617.9 1063.4)" fill="none" stroke="#fff" stroke-width="1.4"/>
<ellipse cx="1620.9" cy="1063.9" rx="7.2" ry="12.6" transform="rotate(-8 1620.9 1063.9)" fill="none" stroke="#fff" stroke-width="1.3"/>
<ellipse cx="1624.9" cy="1064.4" rx="3.4" ry="5.6" transform="rotate(-8 1624.9 1064.4)" fill="none" stroke="#fff" stroke-width="1.1"/>
<path d="M1636.1,1077.6 L1651.6,1084.2" fill="none" stroke="#000" stroke-width="2.9" stroke-dasharray="9 7"/>
<path d="M1651.6,1084.2 L1655.6,1085.9 L1659.4,1079.3 L1668.1,1082.4" fill="none" stroke="#000" stroke-width="2.9" />
<path d="M1674.1,1084.8 L1699.2,1094.5" fill="none" stroke="#000" stroke-width="2.9" stroke-dasharray="9 7"/>
<line x1="1576.4" y1="1103" x2="1617.1" y2="1121.7" stroke="#000" stroke-width="11.5" stroke-linecap="butt"/>
<circle cx="1577.4" cy="1103.5" r="5.2" fill="#000"/>
<ellipse cx="1617.4" cy="1123.1" rx="13.5" ry="19" transform="rotate(-8 1617.4 1123.1)" fill="#000" stroke="none" stroke-width="0"/>
<ellipse cx="1617.9" cy="1123.1" rx="10.4" ry="16" transform="rotate(-8 1617.9 1123.1)" fill="none" stroke="#fff" stroke-width="1.4"/>
<ellipse cx="1620.9" cy="1123.6" rx="7.2" ry="12.6" transform="rotate(-8 1620.9 1123.6)" fill="none" stroke="#fff" stroke-width="1.3"/>
<ellipse cx="1624.9" cy="1124.1" rx="3.4" ry="5.6" transform="rotate(-8 1624.9 1124.1)" fill="none" stroke="#fff" stroke-width="1.1"/>
<path d="M1636.1,1137.2 L1651.6,1143.8" fill="none" stroke="#000" stroke-width="2.9" stroke-dasharray="9 7"/>
<path d="M1651.6,1143.8 L1655.6,1145.5 L1659.4,1139 L1668.1,1142.1" fill="none" stroke="#000" stroke-width="2.9" />
<path d="M1674.1,1144.5 L1699.2,1154.2" fill="none" stroke="#000" stroke-width="2.9" stroke-dasharray="9 7"/>
<path d="M1726,1016.2 L1700.9,1029.2 L1700.9,1057.7 L1703.5,1060.6 L1708.4,1057.7 L1710.1,1043 L1712.5,1034.7 L1716.5,1034 L1715.3,1063.8 L1700.9,1078.5 L1700.9,1094.9 L1703.5,1097.5 L1708.4,1094.9 L1710.1,1081 L1712.5,1072.7 L1716.5,1072.1 L1715.6,1096.6 L1700.9,1122.5 L1700.9,1151.1 L1703.5,1153.3 L1710.4,1147.6 L1711.8,1136.4 L1715.6,1134.3 L1717,1143.3 L1720,1144.2 L1726,1138.1" fill="#fff" stroke="#000" stroke-width="3.8" />
<path d="M1726,1017.1 L1770.1,1040.4 L1770.1,1161.5 L1726,1137.2 Z" fill="#fff" stroke="#000" stroke-width="4.5" />
<path d="M1725.7,928 L1725.7,1217.3" fill="none" stroke="#000" stroke-width="3.2" />
<ellipse cx="1745" cy="1063.8" rx="11" ry="12.5" transform="rotate(-25 1745 1063.8)" fill="#000" stroke="none" stroke-width="0"/>
<g transform="rotate(-25 1745 1063.8)"><ellipse cx="1743.8" cy="1062.8" rx="7" ry="8.5" fill="none" stroke="#fff" stroke-width="1.4"/><path d="M1743.9,1060 A3.8,5 0 0 1 1747.8,1066.9" fill="none" stroke="#fff" stroke-width="0.8"/></g>
<ellipse cx="1745" cy="1116.5" rx="11" ry="12.5" transform="rotate(-25 1745 1116.5)" fill="#000" stroke="none" stroke-width="0"/>
<g transform="rotate(-25 1745 1116.5)"><ellipse cx="1743.8" cy="1115.5" rx="7" ry="8.5" fill="none" stroke="#fff" stroke-width="1.4"/><path d="M1743.9,1112.8 A3.8,5 0 0 1 1747.8,1119.6" fill="none" stroke="#fff" stroke-width="0.8"/></g>
<path d="M1915.3,1029.7 L1954.7,1029.7 L1954.7,1019.7 L1979.7,1038 L1954.7,1056.3 L1954.7,1046.3 L1915.3,1046.3 Z" fill="#000" stroke="#000" stroke-width="1" />
<path d="M2154.7,806.6 L2154.7,1198.7 L2114.7,1223" fill="none" stroke="#000" stroke-width="3.6" />
<path d="M2154.7,891.3 L1991.3,984.7" fill="none" stroke="#000" stroke-width="3.2" />
<path d="M2208,1169.7 L2208,860 L2232.9,846.9" fill="none" stroke="#000" stroke-width="3.4" />
<path d="M2232.9,798.5 L2232.9,847" fill="none" stroke="#000" stroke-width="5" />
<path d="M2232.9,847.2 L2425.4,958" fill="none" stroke="#000" stroke-width="3.2" />
<path d="M2208,863 L2431.3,989.7" fill="none" stroke="#000" stroke-width="3.2" />
<path d="M2154.7,1198.7 L2208,1169.7 L2303,1224.7" fill="none" stroke="#000" stroke-width="3.2" />
<path d="M2207.9,953.6 L2179.9,967.8 L2179.9,997.6 L2183.3,1000.8 L2187,996.9 L2187.8,990.6 L2196.4,994.5 L2196.4,1003.9 L2179.9,1019.7 L2179.9,1038.5 L2183.3,1041.1 L2187,1037.3 L2187.8,1031.5 L2196.4,1035.4 L2196.4,1044.8 L2179.9,1068.4 L2179.9,1099.1 L2183.3,1101 L2187.8,1097.1 L2207.9,1093.6" fill="#fff" stroke="#000" stroke-width="4.1" />
<path d="M2207.9,953.6 L2254.6,978 L2254.6,1107.8 L2207.9,1081.8 Z" fill="#fff" stroke="#000" stroke-width="5" />
<ellipse cx="2198" cy="981.9" rx="10.5" ry="12.5" transform="rotate(-20 2198 981.9)" fill="#000" stroke="none" stroke-width="0"/>
<g transform="rotate(-20 2198 981.9)"><ellipse cx="2196.8" cy="980.9" rx="6.7" ry="8.5" fill="none" stroke="#fff" stroke-width="1.4"/><path d="M2196.9,978.2 A3.7,5 0 0 1 2200.6,985" fill="none" stroke="#fff" stroke-width="0.8"/></g>
<ellipse cx="2198" cy="1022.8" rx="10.5" ry="12.5" transform="rotate(-20 2198 1022.8)" fill="#000" stroke="none" stroke-width="0"/>
<g transform="rotate(-20 2198 1022.8)"><ellipse cx="2196.8" cy="1021.8" rx="6.7" ry="8.5" fill="none" stroke="#fff" stroke-width="1.4"/><path d="M2196.9,1019.1 A3.7,5 0 0 1 2200.6,1025.9" fill="none" stroke="#fff" stroke-width="0.8"/></g>
<ellipse cx="2198" cy="1088.1" rx="10.5" ry="12.5" transform="rotate(-20 2198 1088.1)" fill="#000" stroke="none" stroke-width="0"/>
<g transform="rotate(-20 2198 1088.1)"><ellipse cx="2196.8" cy="1087.1" rx="6.7" ry="8.5" fill="none" stroke="#fff" stroke-width="1.4"/><path d="M2196.9,1084.3 A3.7,5 0 0 1 2200.6,1091.2" fill="none" stroke="#fff" stroke-width="0.8"/></g>
<path d="M2208,1169.7 L2208,861.3" fill="none" stroke="#000" stroke-width="3.8" />
<ellipse cx="2227.9" cy="1003.9" rx="11.8" ry="12.8" transform="rotate(-20 2227.9 1003.9)" fill="#000" stroke="none" stroke-width="0"/>
<g transform="rotate(-20 2227.9 1003.9)"><ellipse cx="2226.7" cy="1002.9" rx="7.6" ry="8.7" fill="none" stroke="#fff" stroke-width="1.4"/><path d="M2226.7,1000.1 A4.1,5.1 0 0 1 2230.8,1007.1" fill="none" stroke="#fff" stroke-width="0.8"/></g>
<ellipse cx="2227.9" cy="1060.6" rx="11.8" ry="12.8" transform="rotate(-20 2227.9 1060.6)" fill="#000" stroke="none" stroke-width="0"/>
<g transform="rotate(-20 2227.9 1060.6)"><ellipse cx="2226.7" cy="1059.6" rx="7.6" ry="8.7" fill="none" stroke="#fff" stroke-width="1.4"/><path d="M2226.7,1056.7 A4.1,5.1 0 0 1 2230.8,1063.8" fill="none" stroke="#fff" stroke-width="0.8"/></g>
<path d="M1989.7,404 L1989.7,664 L1948.7,689" fill="none" stroke="#000" stroke-width="3.2" />
<path d="M1948.7,689 L1964.7,694.7" fill="none" stroke="#000" stroke-width="2.7" />
<line x1="1948" y1="486.5" x2="1972" y2="499.5" stroke="#000" stroke-width="13.5" stroke-linecap="butt"/>
<circle cx="1949.5" cy="487.3" r="6.4" fill="#000"/>
<ellipse cx="1973" cy="500.5" rx="12.5" ry="17.5" transform="rotate(22 1973 500.5)" fill="#000" stroke="none" stroke-width="0"/>
<g transform="rotate(22 1972 499.5)"><ellipse cx="1974.5" cy="500.5" rx="8.2" ry="12.5" fill="none" stroke="#fff" stroke-width="1.3"/><path d="M1973,507.5 A6,9 0 0 1 1978,493.5" fill="none" stroke="#fff" stroke-width="1"/></g>
<line x1="1946.5" y1="561.5" x2="1970.5" y2="574.5" stroke="#000" stroke-width="13.5" stroke-linecap="butt"/>
<circle cx="1948" cy="562.3" r="6.4" fill="#000"/>
<ellipse cx="1971.5" cy="575.5" rx="12.5" ry="17.5" transform="rotate(22 1971.5 575.5)" fill="#000" stroke="none" stroke-width="0"/>
<g transform="rotate(22 1970.5 574.5)"><ellipse cx="1973" cy="575.5" rx="8.2" ry="12.5" fill="none" stroke="#fff" stroke-width="1.3"/><path d="M1971.5,582.5 A6,9 0 0 1 1976.5,568.5" fill="none" stroke="#fff" stroke-width="1"/></g>
<line x1="1948" y1="634" x2="1972" y2="647" stroke="#000" stroke-width="13.5" stroke-linecap="butt"/>
<circle cx="1949.5" cy="634.8" r="6.4" fill="#000"/>
<ellipse cx="1973" cy="648" rx="12.5" ry="17.5" transform="rotate(22 1973 648)" fill="#000" stroke="none" stroke-width="0"/>
<g transform="rotate(22 1972 647)"><ellipse cx="1974.5" cy="648" rx="8.2" ry="12.5" fill="none" stroke="#fff" stroke-width="1.3"/><path d="M1973,655 A6,9 0 0 1 1978,641" fill="none" stroke="#fff" stroke-width="1"/></g>
<path d="M1938.7,508.6 C1937.3,506.7 1931.7,502.8 1930.8,497.4 C1929.8,491.9 1930.1,481.7 1933.1,475.7 C1936.2,469.7 1944.2,463.8 1949.1,461.5 C1954,459.3 1959.5,459.3 1962.6,462.3 C1965.6,465.3 1966.7,476.6 1967.5,479.4" fill="none" stroke="#000" stroke-width="3.2" stroke-linecap="round"/>
<path d="M1962.6,475.3 L1967.8,481.4 L1972.3,475" fill="none" stroke="#000" stroke-width="3.2" stroke-linecap="round"/>
<path d="M2073.1,426.4 C2070,428.2 2060,433.4 2054.4,436.9 C2048.8,440.4 2045.9,443.6 2039.5,447.3 C2033,451.1 2022.1,455.5 2015.6,459.3 C2009.1,463 2005,466.1 2000.6,469.7 C1996.3,473.3 1991.3,479.1 1989.4,480.9" fill="none" stroke="#000" stroke-width="3.2" stroke-linecap="round"/>
<path d="M1989.9,490.6 C1991.4,491.6 1994.9,495.8 1999.2,496.3 C2003.4,496.8 2010.1,495.8 2015.6,493.6 C2021.1,491.5 2026.8,486 2032,483.5 C2037.2,481 2042.5,479 2046.9,478.7 C2051.4,478.4 2055,479.4 2058.9,481.7 C2062.7,483.9 2068.2,490.4 2070.1,492.1" fill="none" stroke="#000" stroke-width="3.2" stroke-linecap="round"/>
<path d="M2003.6,471.2 C2003.5,473.5 2004,481.6 2003,484.7 C2002,487.8 1999.8,488.8 1997.7,489.9 C1995.5,491 1991.2,491.1 1989.9,491.4" fill="none" stroke="#000" stroke-width="2.9" stroke-linecap="round"/>
<path d="M2013.3,459.3 C2013.1,461 2011.4,466.9 2011.7,469.7 C2011.9,472.6 2014.3,475.3 2014.8,476.5" fill="none" stroke="#000" stroke-width="2.7" stroke-linecap="round"/>
<path d="M2017.8,460 C2017.7,461.4 2016.8,466 2016.9,468.2 C2017,470.5 2018,472.6 2018.3,473.5" fill="none" stroke="#000" stroke-width="2.7" stroke-linecap="round"/>
<path d="M1991.7,510.1 C1993.7,511 1999.4,514.5 2003.6,515.7 C2007.9,517 2013.6,516.3 2017.1,517.5 C2020.6,518.8 2021.3,521.5 2024.5,523.2 C2027.8,524.9 2032.3,526.7 2036.5,528 C2040.7,529.3 2047.7,530.5 2049.9,531" fill="none" stroke="#000" stroke-width="3.2" stroke-linecap="round"/>
<path d="M1990.2,513 C1990.4,515 1989.9,521.1 1991.7,525 C1993.4,528.9 1996.7,532.7 2000.6,536.2 C2004.6,539.7 2007.6,541.7 2015.6,545.9 C2023.5,550.1 2035.7,560.1 2048.4,561.1 C2061.1,562.2 2075.8,556.2 2091.7,552.2 C2107.7,548.1 2135.3,539.5 2144,536.9" fill="none" stroke="#000" stroke-width="3.2" stroke-linecap="round"/>
<path d="M2144,536.2 L2144.9,551.9" fill="none" stroke="#000" stroke-width="2.9" />
<path d="M2030.5,486.9 L2061.9,494.4" fill="none" stroke="#000" stroke-width="2.9" stroke-linecap="round"/>
<path d="M2055.2,483.2 C2054.9,485.4 2055.2,491.6 2053.8,496.6 C2052.4,501.6 2048.1,510.3 2046.9,513" fill="none" stroke="#000" stroke-width="2.9" stroke-linecap="round"/>
<path d="M2063.4,489.2 C2063.8,491.9 2065.7,500.4 2065.8,505.6 C2065.8,510.8 2066.1,516.5 2063.7,520.5 C2061.3,524.5 2053.5,528 2051.4,529.5" fill="none" stroke="#000" stroke-width="2.9" stroke-linecap="round"/>
<path d="M2030.5,519 L2051.4,525.7" fill="none" stroke="#000" stroke-width="2.9" stroke-linecap="round"/>
<path d="M2065.6,513 L2073.1,524.2" fill="none" stroke="#000" stroke-width="2.9" stroke-linecap="round"/>
<path d="M2030.5,528 L2024.5,536.9" fill="none" stroke="#000" stroke-width="2.9" stroke-linecap="round"/>
<path d="M2048.4,532.5 C2047.8,533.5 2045.6,536.2 2044.7,538.4 C2043.8,540.7 2043.5,544.7 2043.2,545.9" fill="none" stroke="#000" stroke-width="2.9" stroke-linecap="round"/>
<path d="M2060.4,525 L2060.4,534" fill="none" stroke="#000" stroke-width="2.9" stroke-linecap="round"/>
<path d="M2206.3,465.7 L2206.3,632.3" fill="none" stroke="#000" stroke-width="3.4" />
<path d="M2191.3,475.7 L2206.3,465.7" fill="none" stroke="#000" stroke-width="2.7" />
<path d="M2206.3,632.3 L2214.7,637.3" fill="none" stroke="#000" stroke-width="2.7" />
<path d="M2206.3,513.3 L2244.7,513.3" fill="none" stroke="#000" stroke-width="2.9" />
<path d="M2244.7,505.7 L2244.7,528" fill="none" stroke="#000" stroke-width="3.4" />
<text x="2209" y="501.5" font-size="22.5" fill="#10101c">10mm</text>
<path d="M2210,563 L2211.2,595" fill="none" stroke="#000" stroke-width="2.4" />
<path d="M2213.9,563 L2215.1,595" fill="none" stroke="#000" stroke-width="2.4" />
<path d="M2217.8,563 L2219,595" fill="none" stroke="#000" stroke-width="2.4" />
<path d="M2221.7,563 L2222.9,595" fill="none" stroke="#000" stroke-width="2.4" />
<path d="M2225.6,563 L2226.8,595" fill="none" stroke="#000" stroke-width="2.4" />
<path d="M2229.5,563 L2230.7,595" fill="none" stroke="#000" stroke-width="2.4" />
<path d="M2233.4,563 L2234.6,595" fill="none" stroke="#000" stroke-width="2.4" />
<path d="M2237.3,563 L2238.5,595" fill="none" stroke="#000" stroke-width="2.4" />
<path d="M2241.2,563 L2242.4,595" fill="none" stroke="#000" stroke-width="2.4" />
<path d="M2208,563.5 L2243,563.5" fill="none" stroke="#000" stroke-width="2.7" />
<path d="M2208,595 L2243,595" fill="none" stroke="#000" stroke-width="2.7" />
<path d="M2243,533.3 L2252,533.3 L2252,622.3 L2243,622.3 Z" fill="#fff" stroke="#000" stroke-width="2.9" />
<path d="M2255.3,544.7 L2267.3,544.7 L2267.3,608.3 L2255.3,608.3 Z" fill="#fff" stroke="#000" stroke-width="3.2" />
<path d="M2267.3,557.3 L2270.7,560 L2270.7,597.3 L2267.3,600.7" fill="none" stroke="#000" stroke-width="2.7" />
<path d="M2252,548 L2255.3,548" fill="none" stroke="#000" stroke-width="2.3" />
<path d="M2252,605.7 L2255.3,605.7" fill="none" stroke="#000" stroke-width="2.3" />
</svg>
</body></html>
